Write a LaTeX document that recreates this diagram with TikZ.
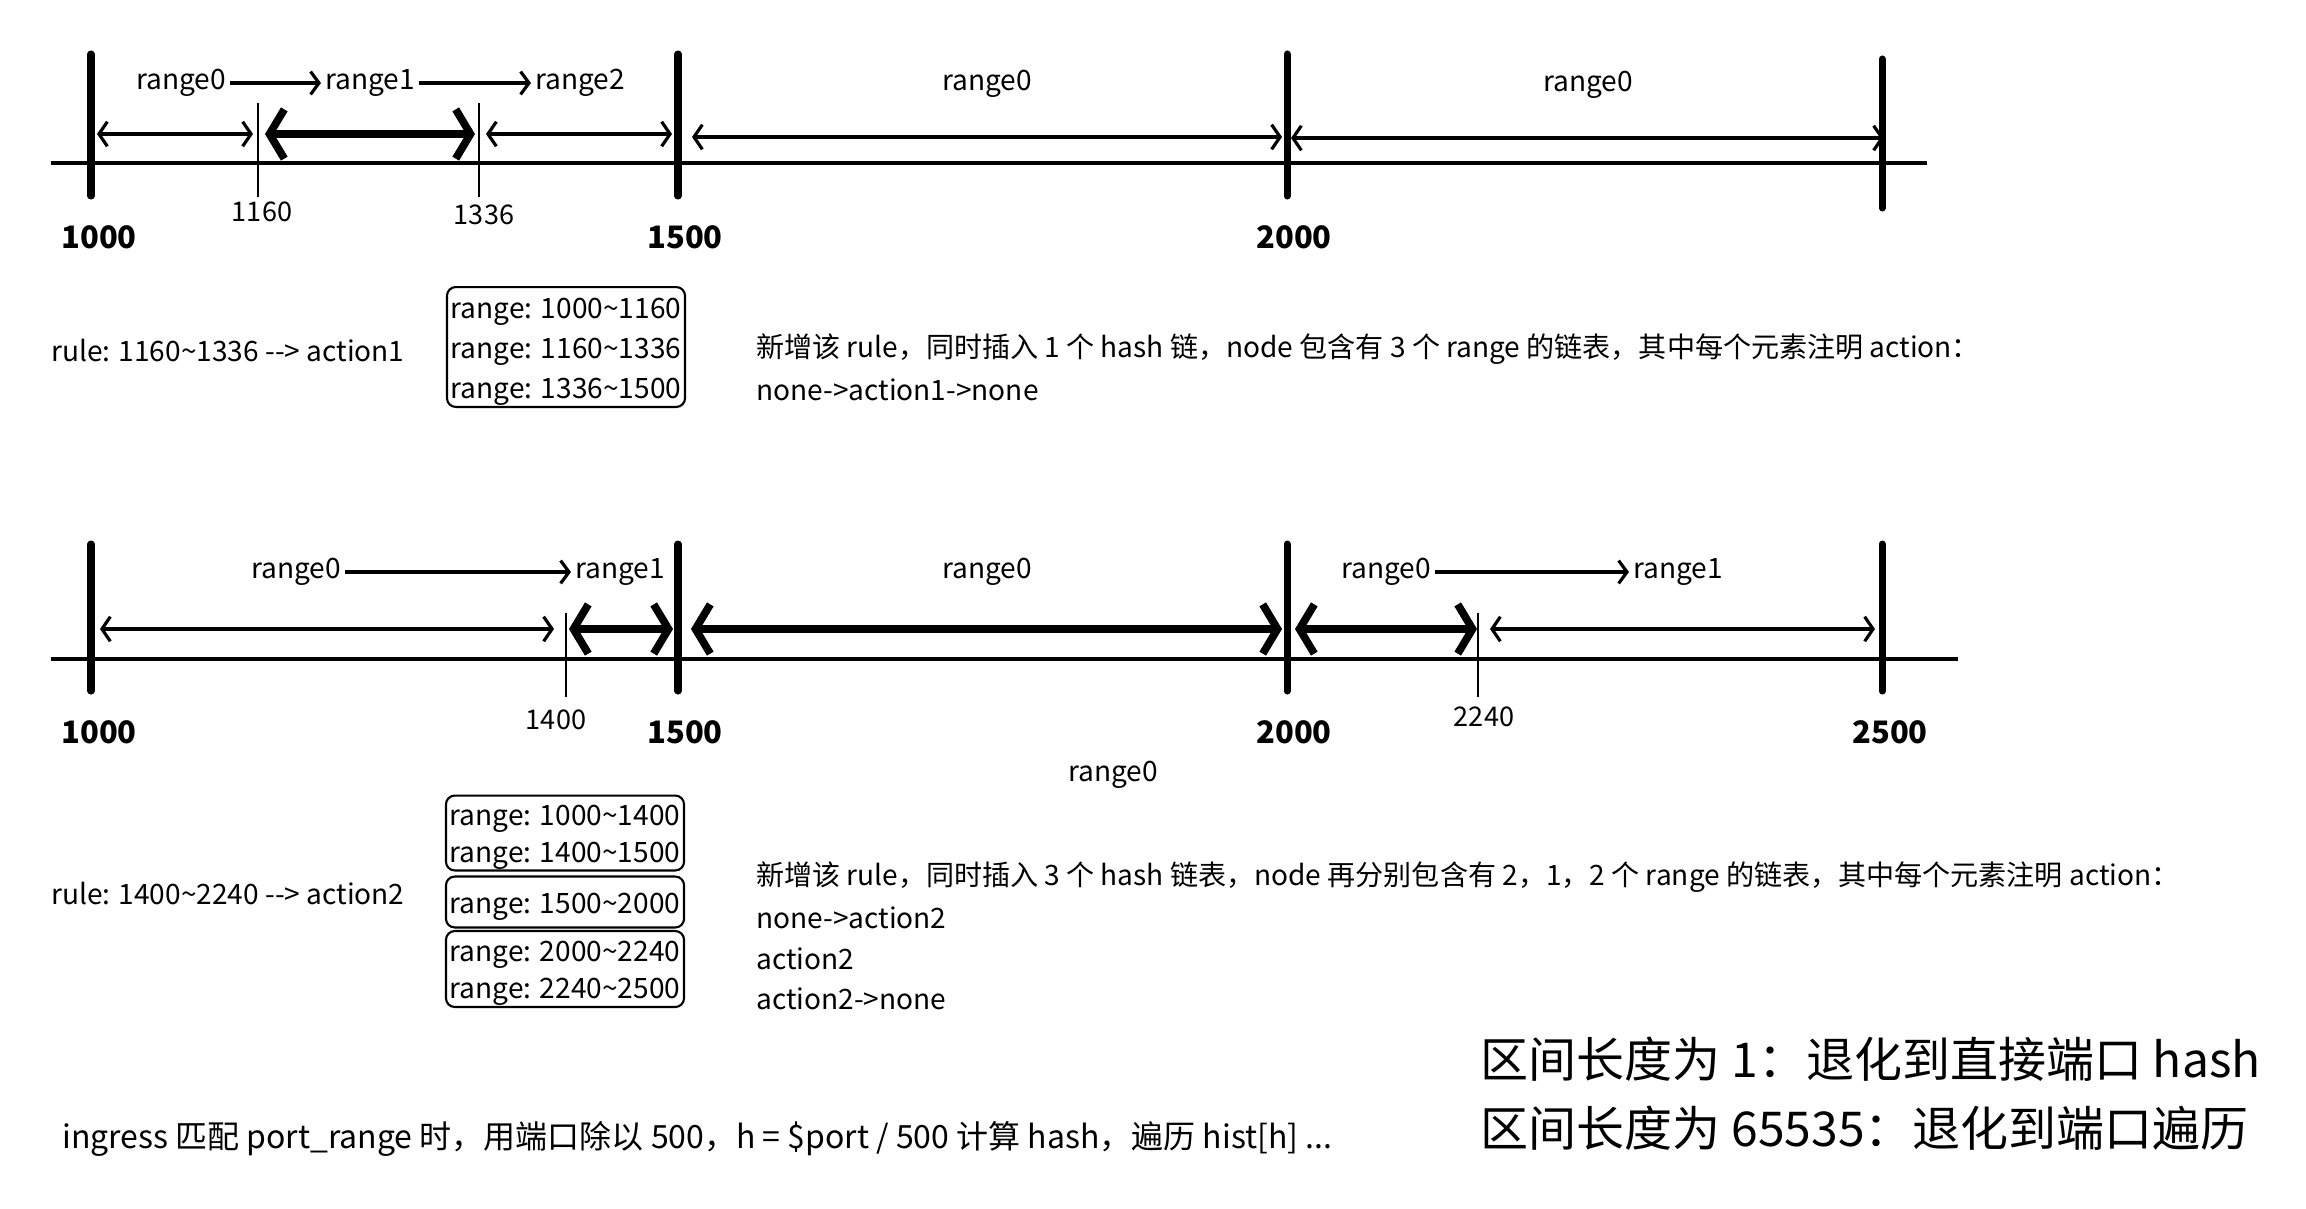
\documentclass[tikz,border=0pt]{standalone}
\usepackage{fontspec}
\setmainfont{Noto Sans CJK SC}
\usetikzlibrary{arrows.meta}
\newcommand{\rg}[2]{\raisebox{-1.35pt}[\height][\depth]{range: #1\textasciitilde #2}}

\begin{document}
\begin{tikzpicture}[x=0.01cm, y=-0.01cm,
	axisline/.style={line width=1.15pt},
	bigtick/.style={line width=2pt, line cap=round},
	smalltick/.style={line width=0.8pt},
	spanarrow/.style={line width=0.9pt, {Straight Barb[length=2.4pt,width=7pt]}-{Straight Barb[length=2.4pt,width=7pt]}},
	hitspan/.style={line width=2.2pt, {Straight Barb[length=4.2pt,width=14pt]}-{Straight Barb[length=4.2pt,width=14pt]}},
	nextarrow/.style={line width=0.9pt, -{Straight Barb[length=2.4pt,width=6.5pt]}},
	lbl/.style={font=\fontsize{7.98pt}{10pt}\selectfont, inner sep=1pt},
	cut/.style={font=\fontsize{7.7pt}{9pt}\selectfont, inner sep=0pt},
	bound/.style={font=\bfseries\fontsize{8.8pt}{11pt}\selectfont, inner sep=0pt},
	rangebox/.style={draw, line width=0.6pt, rounded corners=2.5pt, align=center, inner sep=1pt, minimum width=67.7pt},
	]
	\useasboundingbox (0,0) rectangle (2306,1208);

	% rule 1
	\draw[axisline] (51,163) -- (1927,163);
	\draw[bigtick] (91,54) -- (91,196);
	\draw[bigtick] (678,54) -- (678,196);
	\draw[bigtick] (1287,54) -- (1287,196);
	\draw[bigtick] (1882,59) -- (1882,208);
	\draw[smalltick] (258,103) -- (258,197);
	\draw[smalltick] (479,103) -- (479,197);

	\node[cut] (n1160) at (262,212) {1160};
	\node[cut] (n1336) at (484,215) {1336};
	\node[bound] (b1000) at (99,237) {1000};
	\node[bound] (b1500) at (685,237) {1500};
	\node[bound] (b2000) at (1294,237) {2000};

	\coordinate (p1) at (97,134);
	\coordinate (p2) at (253,134);
	\coordinate (p3) at (265,134);
	\coordinate (p4) at (475,134);
	\coordinate (p5) at (486,134);
	\coordinate (p6) at (672,134);
	\coordinate (p7) at (692,137);
	\coordinate (p8) at (1282,137);
	\coordinate (p9) at (1291,138);
	\coordinate (p10) at (1884,138);
	\draw[spanarrow] (p1) -- (p2);
	\draw[hitspan] (p3) -- (p4);
	\draw[spanarrow] (p5) -- (p6);
	\draw[spanarrow] (p7) -- (p8);
	\draw[spanarrow] (p9) -- (p10);

	\node[lbl] (ra0) at (181,83) {range0};
	\node[lbl] (ra1) at (370,83) {range1};
	\node[lbl] (ra2) at (580,83) {range2};
	\node[lbl] (ra3) at (987,84) {range0};
	\node[lbl] (ra4) at (1588,85) {range0};
	\draw[nextarrow] (ra0) -- (ra1);
	\draw[nextarrow] (ra1) -- (ra2);

	\node[lbl, anchor=west] (rule1) at (47,350) {rule: 1160\textasciitilde 1336 -\kern0pt-> action1};
	\node[rangebox, font=\fontsize{7.98pt}{11.4pt}\selectfont, minimum height=34.1pt] (box1) at (566,347)
		{\rg{1000}{1160}\\ \rg{1160}{1336}\\ \rg{1336}{1500}};
	\node[lbl, anchor=west] (note1) at (752,349) {新增该 rule，同时插入 1 个 hash 链，node 包含有 3 个 range 的链表，其中每个元素注明 action：};
	\node[lbl, anchor=west] (note1b) at (752,390) {none->action1->none};

	% rule 2
	\draw[axisline] (51,659) -- (1958,659);
	\draw[bigtick] (91,544) -- (91,691);
	\draw[bigtick] (678,544) -- (678,691);
	\draw[bigtick] (1287,544) -- (1287,691);
	\draw[bigtick] (1882,544) -- (1882,691);
	\draw[smalltick] (566,613) -- (566,697);
	\draw[smalltick] (1478,613) -- (1478,697);

	\node[cut] (n1400) at (556,720) {1400};
	\node[cut] (n2240) at (1484,717) {2240};
	\node[bound] (c1000) at (99,732) {1000};
	\node[bound] (c1500) at (685,732) {1500};
	\node[bound] (c2000) at (1294,732) {2000};
	\node[bound] (c2500) at (1890,732) {2500};
	\node[lbl] (rb5) at (1113,775) {range0};

	\coordinate (q1) at (100,629);
	\coordinate (q2) at (554,629);
	\coordinate (q3) at (569,629);
	\coordinate (q4) at (673,629);
	\coordinate (q5) at (691,629);
	\coordinate (q6) at (1282,629);
	\coordinate (q7) at (1295,629);
	\coordinate (q8) at (1477,629);
	\coordinate (q9) at (1490,629);
	\coordinate (q10) at (1875,629);
	\draw[spanarrow] (q1) -- (q2);
	\draw[hitspan] (q3) -- (q4);
	\draw[hitspan] (q5) -- (q6);
	\draw[hitspan] (q7) -- (q8);
	\draw[spanarrow] (q9) -- (q10);

	\node[lbl] (rb0) at (296,572) {range0};
	\node[lbl] (rb1) at (620,572) {range1};
	\node[lbl] (rb2) at (987,572) {range0};
	\node[lbl] (rb3) at (1386,572) {range0};
	\node[lbl] (rb4) at (1678,572) {range1};
	\draw[nextarrow] (rb0) -- (rb1);
	\draw[nextarrow] (rb3) -- (rb4);

	\node[lbl, anchor=west] (rule2) at (47,893) {rule: 1400\textasciitilde 2240 -\kern0pt-> action2};
	\node[rangebox, font=\fontsize{7.98pt}{10.5pt}\selectfont, minimum height=21.3pt] (box2) at (565,833)
		{\rg{1000}{1400}\\ \rg{1400}{1500}};
	\node[rangebox, font=\fontsize{7.98pt}{10.5pt}\selectfont, minimum height=14.5pt] (box3) at (565,902)
		{\rg{1500}{2000}};
	\node[rangebox, font=\fontsize{7.98pt}{10.5pt}\selectfont, minimum height=21.6pt] (box4) at (565,969)
		{\rg{2000}{2240}\\ \rg{2240}{2500}};
	\node[lbl, anchor=west] (note2) at (752,877) {新增该 rule，同时插入 3 个 hash 链表，node 再分别包含有 2，1，2 个 range 的链表，其中每个元素注明 action：};
	\node[lbl, anchor=west] (note2b) at (752,918) {none->action2};
	\node[lbl, anchor=west] (note2c) at (752,959) {action2};
	\node[lbl, anchor=west] (note2d) at (752,999) {action2->none};

	% footer
	\node[anchor=west, inner sep=1pt, font=\fontsize{9.1pt}{11pt}\selectfont] (ingress) at (58,1139) {ingress 匹配 port\_range 时，用端口除以 500，h = \$port / 500 计算 hash，遍历 hist[h] ...};
	\node[anchor=west, inner sep=0pt, font=\fontsize{13.65pt}{16pt}\selectfont] (len1) at (1480,1059) {区间长度为 1：退化到直接端口 hash};
	\node[anchor=west, inner sep=0pt, font=\fontsize{13.65pt}{16pt}\selectfont] (len2) at (1480,1128) {区间长度为 65535：退化到端口遍历};
\end{tikzpicture}
\end{document}
